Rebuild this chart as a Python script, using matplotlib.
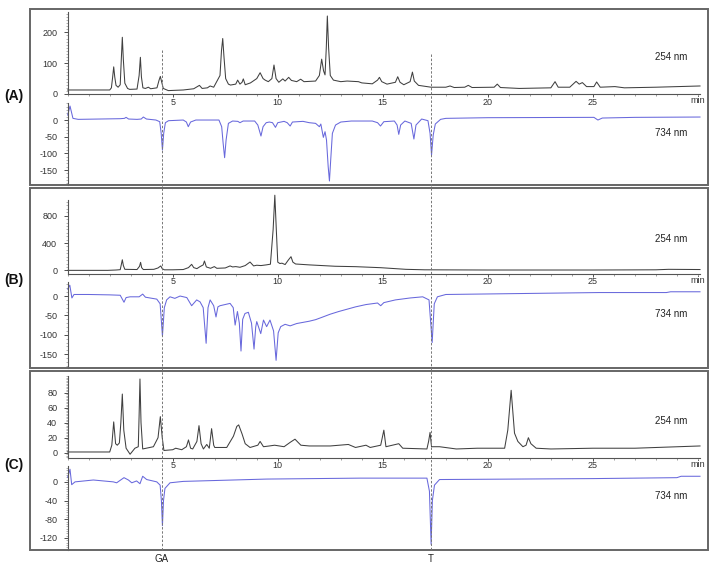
import matplotlib
matplotlib.use("Agg")
import matplotlib.pyplot as plt
from matplotlib.ticker import MultipleLocator, FixedLocator
from matplotlib.patches import Rectangle
from matplotlib.lines import Line2D
from matplotlib import transforms

plt.rcParams['font.family'] = ['Liberation Sans', 'DejaVu Sans']
plt.rcParams['axes.unicode_minus'] = False

# ---- data (time in min, signal in mAU) ----
a254_t = [0.0, 2.0, 2.08, 2.14, 2.19, 2.24, 2.30, 2.40, 2.50, 2.55, 2.60, 2.65, 2.72, 2.85, 2.95,
          3.30, 3.40, 3.46, 3.51, 3.58, 3.70, 3.84, 3.95, 4.25, 4.35, 4.41, 4.47, 4.55, 4.79, 5.5,
          6.0, 6.27, 6.4, 6.65, 6.78, 6.95, 7.25, 7.32, 7.38, 7.44, 7.52, 7.65, 7.75, 8.0, 8.09,
          8.2, 8.3, 8.36, 8.45, 8.7, 9.0, 9.16, 9.3, 9.40, 9.55, 9.72, 9.82, 9.92, 10.05, 10.24,
          10.35, 10.52, 10.65, 10.9, 11.09, 11.25, 11.8, 11.98, 12.09, 12.18, 12.25, 12.31, 12.36,
          12.42, 12.5, 12.65, 13.0, 13.3, 13.84, 14.0, 14.5, 14.75, 14.84, 14.95, 15.2, 15.6, 15.71,
          15.82, 16.0, 16.3, 16.41, 16.5, 16.7, 17.3, 18.0, 18.2, 18.4, 18.9, 19.07, 19.25, 20.3,
          20.45, 20.6, 21.5, 23.0, 23.2, 23.35, 23.9, 24.2, 24.35, 24.5, 24.7, 25.05, 25.18, 25.35,
          26.05, 26.5, 28.0, 30.1]
a254_v = [13, 13, 20, 55, 88, 55, 28, 22, 30, 110, 184, 110, 35, 18, 15,
          16, 60, 119, 55, 20, 18, 22, 17, 20, 45, 57, 40, 18, 11, 13,
          17, 28, 18, 20, 26, 22, 60, 140, 180, 120, 50, 32, 29, 32, 45,
          32, 38, 49, 30, 36, 50, 69, 50, 45, 40, 50, 94, 50, 38, 49,
          42, 54, 44, 40, 48, 40, 42, 60, 113, 75, 62, 150, 253,
          150, 60, 45, 40, 42, 40, 36, 33, 45, 54, 40, 32, 38, 56,
          38, 30, 40, 71, 42, 28, 22, 22, 26, 21, 22, 28, 21, 22,
          32, 21, 18, 20, 40, 22, 22, 41, 32, 37, 24, 24, 39, 22,
          24, 20, 22, 26]

a734_t = [0.0, 0.11, 0.25, 0.5, 1.5, 2.5, 2.7, 2.78, 2.9, 3.3, 3.5, 3.6, 3.75, 4.2, 4.38,
          4.45, 4.51, 4.57, 4.65, 4.8, 5.5, 5.65, 5.74, 5.85, 6.1, 7.2, 7.33, 7.4, 7.47, 7.54,
          7.65, 7.85, 8.1, 8.2, 8.35, 8.9, 9.05, 9.2, 9.3, 9.45, 9.6, 9.75, 9.89, 10.0, 10.3,
          10.45, 10.59, 10.7, 11.2, 11.5, 11.8, 11.98, 12.05, 12.17, 12.25, 12.32, 12.4, 12.46,
          12.52, 12.6, 12.75, 13.0, 13.5, 14.5, 14.75, 14.89, 15.05, 15.55, 15.68, 15.76, 15.85,
          16.05, 16.35, 16.48, 16.58, 16.85, 17.15, 17.25, 17.32, 17.4, 17.5, 17.75, 18.0, 20.0,
          25.05, 25.24, 25.45, 27.0, 30.1]
a734_v = [15, 42, 5, 2, 3, 4, 5, 8, 3, 2, 3, 9, 3, 0, -5,
          -40, -90, -40, -8, -2, 0, -6, -20, -6, 0, 0, -20, -70, -113, -60,
          -10, -3, -4, -8, -3, -3, -15, -48, -20, -8, -6, -8, -22, -8, -4,
          -8, -18, -6, -4, -8, -10, -20, -12, -52, -35, -60, -140, -183,
          -120, -40, -15, -6, -3, -3, -8, -18, -5, -3, -15, -43, -15,
          -3, -10, -57, -15, 3, -2, -40, -105, -45, -12, 2, 5, 7,
          8, 0, 6, 8, 9]

b254_t = [0.0, 1.9, 2.3, 2.5, 2.55, 2.6, 2.65, 2.72, 3.3, 3.42, 3.47, 3.52, 3.6, 4.1, 4.3,
          4.43, 4.5, 4.6, 5.0, 5.5, 5.75, 5.9, 6.0, 6.15, 6.3, 6.45, 6.51, 6.6, 6.8, 6.98,
          7.1, 7.5, 7.73, 7.85, 8.0, 8.2, 8.45, 8.68, 8.85, 9.0, 9.2, 9.45, 9.65, 9.78, 9.86,
          9.93, 10.0, 10.1, 10.2, 10.35, 10.5, 10.63, 10.72, 10.85, 11.5, 12.73, 13.7, 14.9,
          16.1, 17.0, 20.0, 25.0, 28.0, 28.6, 30.1]
b254_v = [0, 0, 5, 10, 80, 155, 70, 15, 12, 60, 117, 40, 12, 15, 35,
          65, 25, 8, 8, 12, 40, 88, 40, 25, 55, 80, 137, 50, 30, 55,
          30, 35, 65, 50, 55, 45, 70, 122, 65, 75, 70, 80, 90, 600, 1100,
          600, 120, 100, 105, 85, 150, 200, 120, 93, 80, 60, 54, 39,
          15, 8, 5, 5, 8, 15, 12]

b734_t = [0.0, 0.1, 0.2, 0.3, 1.0, 2.0, 2.5, 2.6, 2.68, 2.78, 2.97, 3.4, 3.57, 3.7, 4.24,
          4.4, 4.51, 4.6, 4.71, 4.87, 5.1, 5.35, 5.67, 5.9, 6.14, 6.3, 6.45, 6.59, 6.68, 6.78,
          6.95, 7.06, 7.15, 7.25, 7.73, 7.88, 7.97, 8.08, 8.17, 8.25, 8.33, 8.44, 8.6, 8.75,
          8.87, 8.95, 9.0, 9.19, 9.32, 9.47, 9.63, 9.8, 9.92, 10.02, 10.14, 10.35, 10.59, 10.9,
          11.2, 11.5, 11.8, 12.1, 12.49, 12.9, 13.3, 13.7, 14.2, 14.75, 14.9, 15.05, 15.6, 16.3,
          16.9, 17.2, 17.35, 17.45, 17.6, 18.0, 25.3, 28.5, 28.7, 30.1]
b734_v = [18, 28, -5, 4, 4, 3, 2, -8, -16, -4, -2, -2, 5, -3, -8,
          -20, -103, -30, -10, -2, -6, 0, -4, -25, -10, -15, -30, -122, -30, -10,
          -25, -54, -28, -25, -19, -30, -75, -40, -70, -142, -60, -45, -42, -70,
          -137, -80, -66, -97, -62, -79, -62, -90, -166, -95, -79, -73, -77, -71,
          -68, -65, -61, -55, -47, -40, -34, -28, -22, -18, -25, -17, -10, -5,
          -2, -10, -120, -20, -2, 4, 9, 9, 11, 11]

c254_t = [0.0, 2.0, 2.1, 2.19, 2.28, 2.36, 2.46, 2.53, 2.6, 2.67, 2.78, 2.97, 3.2, 3.36, 3.4,
          3.44, 3.49, 3.57, 4.08, 4.3, 4.41, 4.5, 4.58, 5.0, 5.14, 5.43, 5.65, 5.75, 5.85, 5.95,
          6.15, 6.25, 6.35, 6.46, 6.62, 6.74, 6.85, 6.95, 7.0, 7.57, 7.89, 8.05, 8.14, 8.3, 8.45,
          8.68, 9.05, 9.16, 9.32, 9.6, 9.85, 10.3, 10.6, 10.82, 11.1, 11.5, 12.5, 13.36, 13.7,
          14.2, 14.4, 14.9, 15.05, 15.15, 15.76, 15.95, 17.1, 17.18, 17.25, 17.32, 17.7, 18.5,
          19.5, 20.8, 20.95, 21.11, 21.27, 21.43, 21.67, 21.82, 21.93, 22.05, 22.3, 23.0, 25.0,
          27.0, 30.1]
c254_v = [1, 1, 10, 41, 12, 10, 13, 40, 78, 30, 6, -2, 6, 8, 50,
          98, 40, 5, 8, 20, 48, 20, 3, 4, 6, 4, 8, 17, 6, 5,
          15, 36, 12, 5, 11, 6, 32, 10, 7, 7, 22, 35, 37, 25, 12,
          7, 10, 15, 8, 9, 10, 8, 14, 18, 10, 9, 9, 11, 7,
          10, 7, 10, 30, 8, 12, 6, 5, 15, 27, 8, 8, 5,
          6, 6, 30, 83, 26, 15, 8, 10, 20, 12, 6, 5, 6,
          6, 9]

c734_t = [0.0, 0.03, 0.11, 0.19, 0.35, 1.22, 2.17, 2.33, 2.68, 2.89, 3.05, 3.28, 3.44, 3.57,
          3.76, 4.24, 4.4, 4.46, 4.51, 4.56, 4.63, 4.87, 5.5, 9.47, 13.92, 17.1, 17.22, 17.3,
          17.36, 17.46, 17.7, 25.0, 29.0, 29.2, 30.1]
c734_v = [10, 14, 27, -6, 0, 4, 0, -2, 9, 4, -2, 2, -4, 12,
          5, 0, -7, -40, -94, -40, -14, -2, 1, 6, 8, 8, -20, -134,
          -40, -7, 5, 7, 9, 12, 12]

panel_labels = ['(A)', '(B)', '(C)']
wavelengths = ['254 nm', '734 nm']
x_ticks = [5, 10, 15, 20, 25]
upper_ticks = [[0, 100, 200], [0, 400, 800], [0, 20, 40, 60, 80]]
lower_ticks = [[-150, -100, -50, 0], [-150, -100, -50, 0], [-120, -80, -40, 0]]
marker_names = ['GA', 'T']
marker_times = [4.49, 17.3]

# ---- layout in pixels ----
W, H = 716, 566
fig = plt.figure(figsize=(W / 100, H / 100), dpi=100)
X0, X1 = 67.7, 700
XMAX = 30.1


def px_axes(ytop, ybot):
    return fig.add_axes([X0 / W, 1 - ybot / H, (X1 - X0) / W, (ybot - ytop) / H])


boxes = [(9, 185), (188, 368), (371, 550)]
upper_pos = [(12, 94.3), (200, 273.7), (376, 458)]
lower_pos = [(102.7, 185), (281.7, 367.7), (466, 550)]
upper_lim = [(-1, 266), (-49, 1030), (-7, 102)]
lower_lim = [(-195, 52), (-185, 37), (-146, 34)]
upper_minor = [10, 50, 2]
lower_minor = [10, 10, 5]
label_y = [96, 280, 465]
nm_y = [(57, 133), (239, 314), (421, 496)]

traces = [(a254_t, a254_v, a734_t, a734_v),
          (b254_t, b254_v, b734_t, b734_v),
          (c254_t, c254_v, c734_t, c734_v)]

tick_col = '#333333'
black = '#404040'
blue = '#6868dc'

for i in range(3):
    top, bot = boxes[i]
    fig.add_artist(Rectangle((30 / W, 1 - bot / H), 678 / W, (bot - top) / H,
                             transform=fig.transFigure, fill=False,
                             ec='#666666', lw=1.4))
    t1, v1, t2, v2 = traces[i]

    ax = px_axes(*upper_pos[i])
    ax.plot(t1, v1, color=black, lw=0.75, clip_on=False)
    ax.set_xlim(0, XMAX)
    ax.set_ylim(*upper_lim[i])
    for s in ['top', 'right']:
        ax.spines[s].set_visible(False)
    for s in ['left', 'bottom']:
        ax.spines[s].set_color('#555555')
        ax.spines[s].set_linewidth(0.8)
    ax.xaxis.set_major_locator(FixedLocator(x_ticks))
    ax.xaxis.set_minor_locator(MultipleLocator(1))
    ax.yaxis.set_major_locator(FixedLocator(upper_ticks[i]))
    ax.yaxis.set_minor_locator(MultipleLocator(upper_minor[i]))
    ax.tick_params(axis='x', which='major', length=2, pad=0.5, labelsize=6.5,
                   colors=tick_col, width=0.6)
    ax.tick_params(axis='x', which='minor', length=1.5, width=0.5, colors='#777777')
    ax.tick_params(axis='y', which='major', length=3, pad=4.5, labelsize=6.5,
                   colors=tick_col, width=0.6)
    ax.tick_params(axis='y', which='minor', length=1.8, width=0.4, colors='#777777')
    ax.patch.set_alpha(0)
    min_tr = transforms.offset_copy(ax.get_xaxis_transform(), fig=fig, y=-6.5, units='dots')
    ax.text(30.0, 0, 'min', transform=min_tr, ha='center', va='center',
            fontsize=6.5, color=tick_col)

    ax2 = px_axes(*lower_pos[i])
    ax2.plot(t2, v2, color=blue, lw=0.75, clip_on=False)
    ax2.set_xlim(0, XMAX)
    ax2.set_ylim(*lower_lim[i])
    for s in ['top', 'right', 'bottom']:
        ax2.spines[s].set_visible(False)
    ax2.spines['left'].set_color('#555555')
    ax2.spines['left'].set_linewidth(0.8)
    ax2.set_xticks([])
    ax2.yaxis.set_major_locator(FixedLocator(lower_ticks[i]))
    ax2.yaxis.set_minor_locator(MultipleLocator(lower_minor[i]))
    ax2.tick_params(axis='y', which='major', length=3, pad=4.5, labelsize=6.5,
                    colors=tick_col, width=0.6)
    ax2.tick_params(axis='y', which='minor', length=1.8, width=0.4, colors='#777777')
    ax2.patch.set_alpha(0)

    fig.text(14 / W, 1 - label_y[i] / H, panel_labels[i], ha='center', va='center',
             fontsize=10, fontweight='bold', color='#111111')
    fig.text(671 / W, 1 - nm_y[i][0] / H, wavelengths[0], ha='center', va='center',
             fontsize=7, color='#222222')
    fig.text(671 / W, 1 - nm_y[i][1] / H, wavelengths[1], ha='center', va='center',
             fontsize=7, color='#222222')

# dashed marker lines running through all three panels
trans = transforms.blended_transform_factory(ax2.transData, fig.transFigure)
starts = [50, 54]
for tm, name, y0 in zip(marker_times, marker_names, starts):
    fig.add_artist(Line2D([tm, tm], [1 - y0 / H, 1 - 550 / H], transform=trans,
                          color='#777777', lw=0.7, ls=(0, (2.5, 1.8))))
    fig.text(tm, 1 - 559 / H, name, transform=trans, ha='center', va='center',
             fontsize=7, color='#222222')

fig.savefig('out.png', dpi=100)
